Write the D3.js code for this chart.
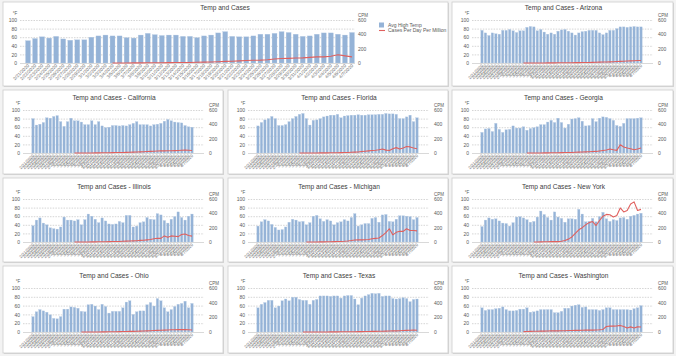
<!DOCTYPE html>
<html><head><meta charset="utf-8">
<script src="https://cdn.jsdelivr.net/npm/d3@7"></script>
<style>
html,body{margin:0;padding:0;background:#f3f3f3;}
svg{display:block;font-family:"Liberation Sans",Arial,sans-serif;}
</style></head>
<body>
<svg id="c" width="676" height="356"></svg>
<script>
const dates = ["2/21/2020","2/22/2020","2/23/2020","2/24/2020","2/25/2020","2/26/2020","2/27/2020","2/28/2020","2/29/2020",
"3/1/2020","3/2/2020","3/3/2020","3/4/2020","3/5/2020","3/6/2020","3/7/2020","3/8/2020","3/9/2020","3/10/2020",
"3/11/2020","3/12/2020","3/13/2020","3/14/2020","3/15/2020","3/16/2020","3/17/2020","3/18/2020","3/19/2020","3/20/2020",
"3/21/2020","3/22/2020","3/23/2020","3/24/2020","3/25/2020","3/26/2020","3/27/2020","3/28/2020","3/29/2020","3/30/2020",
"3/31/2020","4/1/2020","4/2/2020","4/3/2020","4/4/2020","4/5/2020","4/6/2020","4/7/2020"];
const leftTicks = [0,20,40,60,80,100];
const rightTicks = [0,200,400,600];
const titles = ["Temp and Cases","Temp and Cases - Arizona","Temp and Cases - California","Temp and Cases - Florida",
"Temp and Cases - Georgia","Temp and Cases - Illinois","Temp and Cases - Michigan","Temp and Cases - New York",
"Temp and Cases - Ohio","Temp and Cases - Texas","Temp and Cases - Washington"];
const legendLabels = ["Avg High Temp","Cases Per Day Per Million"];
const N = null;

const tempAll = [52,57,61,58,62,56,53,54,54,60,63,65,63,63,59,58,65,69,66,64,65,65,62,62,59,63,65,70,73,62,61,61,63,67,67,69,73,71,67,62,63,67,70,70,67,65,71];
const casesAll = [N,N,N,N,N,N,N,N,N,N,N,N,0,1,1,2,2,3,3,4,5,6,7,8,10,12,15,18,22,25,30,35,38,40,45,55,62,65,70,72,78,85,86,95,115,100,85];

const tempArizona = [76,70,64,70,68,67,76,76,78,75,71,75,75,83,85,84,75,78,72,67,70,67,74,77,78,74,70,65,70,73,74,76,76,76,70,66,70,76,76,80,84,84,83,84,85,84,84];
const casesArizona = [N,N,N,N,N,N,N,N,N,N,N,N,0,0,0,1,1,1,1,2,2,2,3,3,3,4,4,5,5,6,7,8,9,10,12,14,15,16,18,20,22,24,28,30,32,34,35];

const tempCalifornia = [80,65,67,71,82,81,85,87,73,62,73,81,75,75,72,66,66,75,66,73,63,59,60,64,64,63,64,63,66,69,73,66,66,66,63,66,67,69,74,78,75,72,71,70,64,61,60];
const casesCalifornia = [N,N,N,N,N,N,N,N,N,N,N,N,0,0,0,1,1,1,2,2,3,3,4,5,6,7,8,9,10,12,14,16,18,20,22,25,28,30,30,31,32,33,35,38,40,38,35];

const tempFlorida = [63,71,77,80,85,80,64,64,66,73,80,85,90,92,80,65,76,77,80,84,86,88,88,90,82,86,87,88,88,89,88,88,89,89,89,90,90,92,91,91,90,80,80,84,88,73,82];
const casesFlorida = [N,N,N,N,N,N,N,N,N,N,N,N,0,0,0,1,1,1,2,2,2,3,3,4,5,6,8,10,12,15,20,25,30,35,38,45,55,40,35,60,75,55,70,90,85,70,60];

const tempGeorgia = [48,56,57,50,69,55,48,54,55,63,58,58,61,53,57,59,61,66,66,72,76,71,81,71,58,67,79,80,82,74,63,64,80,73,81,84,83,80,76,64,62,69,80,80,80,81,82];
const casesGeorgia = [N,N,N,N,N,N,N,N,N,N,N,N,N,0,0,1,1,1,2,2,3,3,4,5,6,7,8,10,12,14,16,18,20,22,28,35,42,55,45,37,115,85,70,60,45,55,70];

const tempIllinois = [38,51,56,44,40,33,31,30,35,58,51,51,49,52,40,52,65,60,53,45,56,49,42,41,42,48,45,62,62,35,37,45,47,57,53,52,66,63,50,44,53,59,70,57,51,60,65];
const casesIllinois = [N,N,N,N,N,N,N,N,N,N,N,N,0,0,1,1,1,2,2,3,3,4,5,6,7,8,10,12,14,16,18,22,25,30,35,45,52,50,85,65,85,80,75,105,112,90,82];

const tempMichigan = [37,47,52,49,41,34,28,29,35,46,53,51,47,48,40,45,60,62,54,48,52,49,40,45,47,52,49,57,66,37,40,43,43,55,57,46,63,64,48,47,53,61,61,60,59,52,57];
const casesMichigan = [N,N,N,N,N,N,N,N,N,N,N,N,N,N,0,0,1,1,2,2,3,4,5,6,8,10,14,20,28,30,30,32,35,45,50,55,90,130,185,100,135,150,148,185,160,160,155];

const tempNewYork = [36,51,56,53,54,49,44,43,37,45,58,59,56,52,46,48,58,72,64,57,51,70,58,55,46,54,54,53,76,65,47,48,55,47,59,69,54,48,52,50,56,57,53,60,62,65,67];
const casesNewYork = [N,N,N,N,N,N,N,N,N,N,N,N,N,N,N,0,1,2,3,4,5,6,5,10,20,40,70,120,170,200,240,270,285,230,300,360,385,380,350,370,475,420,440,530,560,440,455];

const tempOhio = [35,46,51,48,45,39,31,30,35,52,52,57,56,54,47,46,62,63,59,51,63,58,43,47,47,47,55,68,71,40,46,48,48,62,67,59,76,71,55,46,51,58,63,65,70,55,65];
const casesOhio = [N,N,N,N,N,N,N,N,N,N,N,N,N,N,0,0,0,1,1,1,2,2,3,3,4,5,6,7,8,9,10,12,14,16,18,20,22,24,26,28,30,30,32,33,32,30,28];

const tempTexas = [55,63,67,72,72,55,59,71,75,71,79,79,74,72,72,63,72,74,82,82,82,81,82,82,77,82,83,83,75,62,77,82,85,88,87,88,81,82,82,76,75,76,78,76,69,74,75];
const casesTexas = [N,N,N,N,N,N,N,N,N,N,N,N,N,0,0,0,0,1,1,1,1,2,2,2,3,3,3,4,4,5,5,6,7,8,9,10,11,12,14,15,16,18,20,22,24,25,24];

const tempWashington = [55,49,51,51,53,54,57,51,48,48,49,52,52,55,45,46,48,51,51,51,51,44,44,47,54,54,59,61,62,56,57,51,51,51,49,51,55,55,51,51,51,51,51,50,53,55,60];
const casesWashington = [N,N,N,N,N,N,N,N,N,N,N,N,5,6,8,10,10,12,12,14,15,16,16,18,18,20,20,22,22,24,25,25,25,28,30,35,75,80,80,82,90,75,55,70,55,70,68];

const temps = [tempAll,tempArizona,tempCalifornia,tempFlorida,tempGeorgia,tempIllinois,tempMichigan,tempNewYork,tempOhio,tempTexas,tempWashington];
const cases = [casesAll,casesArizona,casesCalifornia,casesFlorida,casesGeorgia,casesIllinois,casesMichigan,casesNewYork,casesOhio,casesTexas,casesWashington];

// ---- layout ----
const rows = [
  {py:2, ph:84, top:20, bot:63},
  {py:90, ph:84, top:110, bot:153},
  {py:178, ph:84, top:199, bot:242},
  {py:266, ph:87, top:288, bot:332}
];
const cols = [{px:3,pw:220},{px:228,pw:220},{px:452,pw:221}];
const layout = [];
layout.push({px:3, pw:445, row:rows[0], big:true});
layout.push({px:cols[2].px, pw:cols[2].pw, row:rows[0]});
for (let r=1;r<4;r++) for (let c=0;c<3;c++) layout.push({px:cols[c].px, pw:cols[c].pw, row:rows[r]});

const BLUE = "#95b3d7", RED = "#e0605e", TXT = "#595959";
const svg = d3.select("#c");

layout.forEach((L,i)=>{
  const g = svg.append("g");
  const R = L.row;
  g.append("rect").attr("x",L.px+1).attr("y",R.py+1).attr("width",L.pw).attr("height",R.ph)
    .attr("fill","#d6d6d6");
  g.append("rect").attr("x",L.px).attr("y",R.py).attr("width",L.pw).attr("height",R.ph)
    .attr("fill","#fff").attr("stroke","#cdcdcd").attr("stroke-width",0.8);

  let gx0, gx1, c0, c1, labX, rlabX, titleX;
  if (L.big) {
    gx0 = 20; gx1 = 355; c0 = 28; c1 = 352; labX = 17; rlabX = 358; titleX = 225;
  } else {
    gx0 = L.px+20; gx1 = L.px+201; c0 = L.px+30; c1 = L.px+189; labX = L.px+17; rlabX = L.px+206;
    titleX = L.px + L.pw/2 + 1;
  }
  const step = (c1-c0)/(dates.length-1);
  const x = d3.scaleBand().domain(dates).range([c0-step/2, c1+step/2]).paddingInner(0.3).paddingOuter(0.15);
  const yL = d3.scaleLinear().domain([0,100]).range([R.bot, R.top]);
  const yR = d3.scaleLinear().domain([0,600]).range([R.bot, R.top]);

  g.append("text").attr("x",titleX).attr("y",R.top-12).attr("dy","0.35em")
    .attr("text-anchor","middle").attr("font-size",6.6).attr("fill","#404040").text(titles[i]);

  // gridlines
  g.selectAll(".gl").data(leftTicks.filter(t=>t>0)).enter().append("line")
    .attr("x1",gx0).attr("x2",gx1).attr("y1",d=>yL(d)+0.5).attr("y2",d=>yL(d)+0.5)
    .attr("stroke","#b8b8b8").attr("stroke-width",0.6).attr("stroke-dasharray","1.5,1.2");

  // left axis labels
  const la = d3.axisLeft(yL).tickValues(leftTicks).tickSize(0).tickPadding(0);
  const lag = g.append("g").attr("transform",`translate(${labX},0)`).call(la);
  lag.select(".domain").remove();
  lag.selectAll("text").attr("font-size",5).attr("fill",TXT).attr("font-family","Liberation Sans, Arial");
  g.append("text").attr("x",labX-2).attr("y",R.top-5).attr("text-anchor","middle")
    .attr("font-size",4.5).attr("fill",TXT).text("°F");

  // right axis labels
  const ra = d3.axisRight(yR).tickValues(rightTicks).tickSize(0).tickPadding(0);
  const rag = g.append("g").attr("transform",`translate(${rlabX},0)`).call(ra);
  rag.select(".domain").remove();
  rag.selectAll("text").attr("font-size",5).attr("fill",TXT).attr("font-family","Liberation Sans, Arial");
  g.append("text").attr("x",rlabX).attr("y",R.top-3).attr("font-size",4.5).attr("fill",TXT).text("CPM");

  // bars
  g.selectAll(".bar").data(temps[i]).enter().append("rect")
    .attr("x",(d,j)=>x(dates[j])).attr("width",x.bandwidth())
    .attr("y",d=>yL(d)).attr("height",d=>R.bot-yL(d))
    .attr("fill",BLUE).attr("stroke","#b9cde5").attr("stroke-width",0.3);

  // baseline
  g.append("line").attr("x1",gx0).attr("x2",gx1).attr("y1",R.bot+0.5).attr("y2",R.bot+0.5)
    .attr("stroke","#c8c8c8").attr("stroke-width",0.7);

  // line
  const line = d3.line().defined(d=>d!=null)
    .x((d,j)=>x(dates[j])+x.bandwidth()/2).y(d=>yR(d));
  g.append("path").datum(cases[i]).attr("d",line).attr("fill","none")
    .attr("stroke",RED).attr("stroke-width",1.1).attr("stroke-linejoin","round");

  // date labels
  g.selectAll(".dl").data(dates).enter().append("text")
    .attr("transform",d=>`translate(${x(d)+x.bandwidth()/2+1.5},${R.bot+3}) rotate(-45)`)
    .attr("text-anchor","end").attr("font-size",L.big?4.6:4.3).attr("fill","#6a6a6a").text(d=>d);

  if (L.big) {
    const lg = g.append("g");
    lg.append("rect").attr("x",379).attr("y",22.5).attr("width",5).attr("height",5).attr("fill",BLUE);
    lg.append("text").attr("x",388).attr("y",25).attr("dy","0.35em").attr("font-size",5).attr("fill",TXT).text(legendLabels[0]);
    lg.append("line").attr("x1",379).attr("x2",385).attr("y1",30.5).attr("y2",30.5).attr("stroke",RED).attr("stroke-width",1.1);
    lg.append("text").attr("x",388).attr("y",30.5).attr("dy","0.35em").attr("font-size",5).attr("fill",TXT).text(legendLabels[1]);
  }
});
</script>
</body></html>
